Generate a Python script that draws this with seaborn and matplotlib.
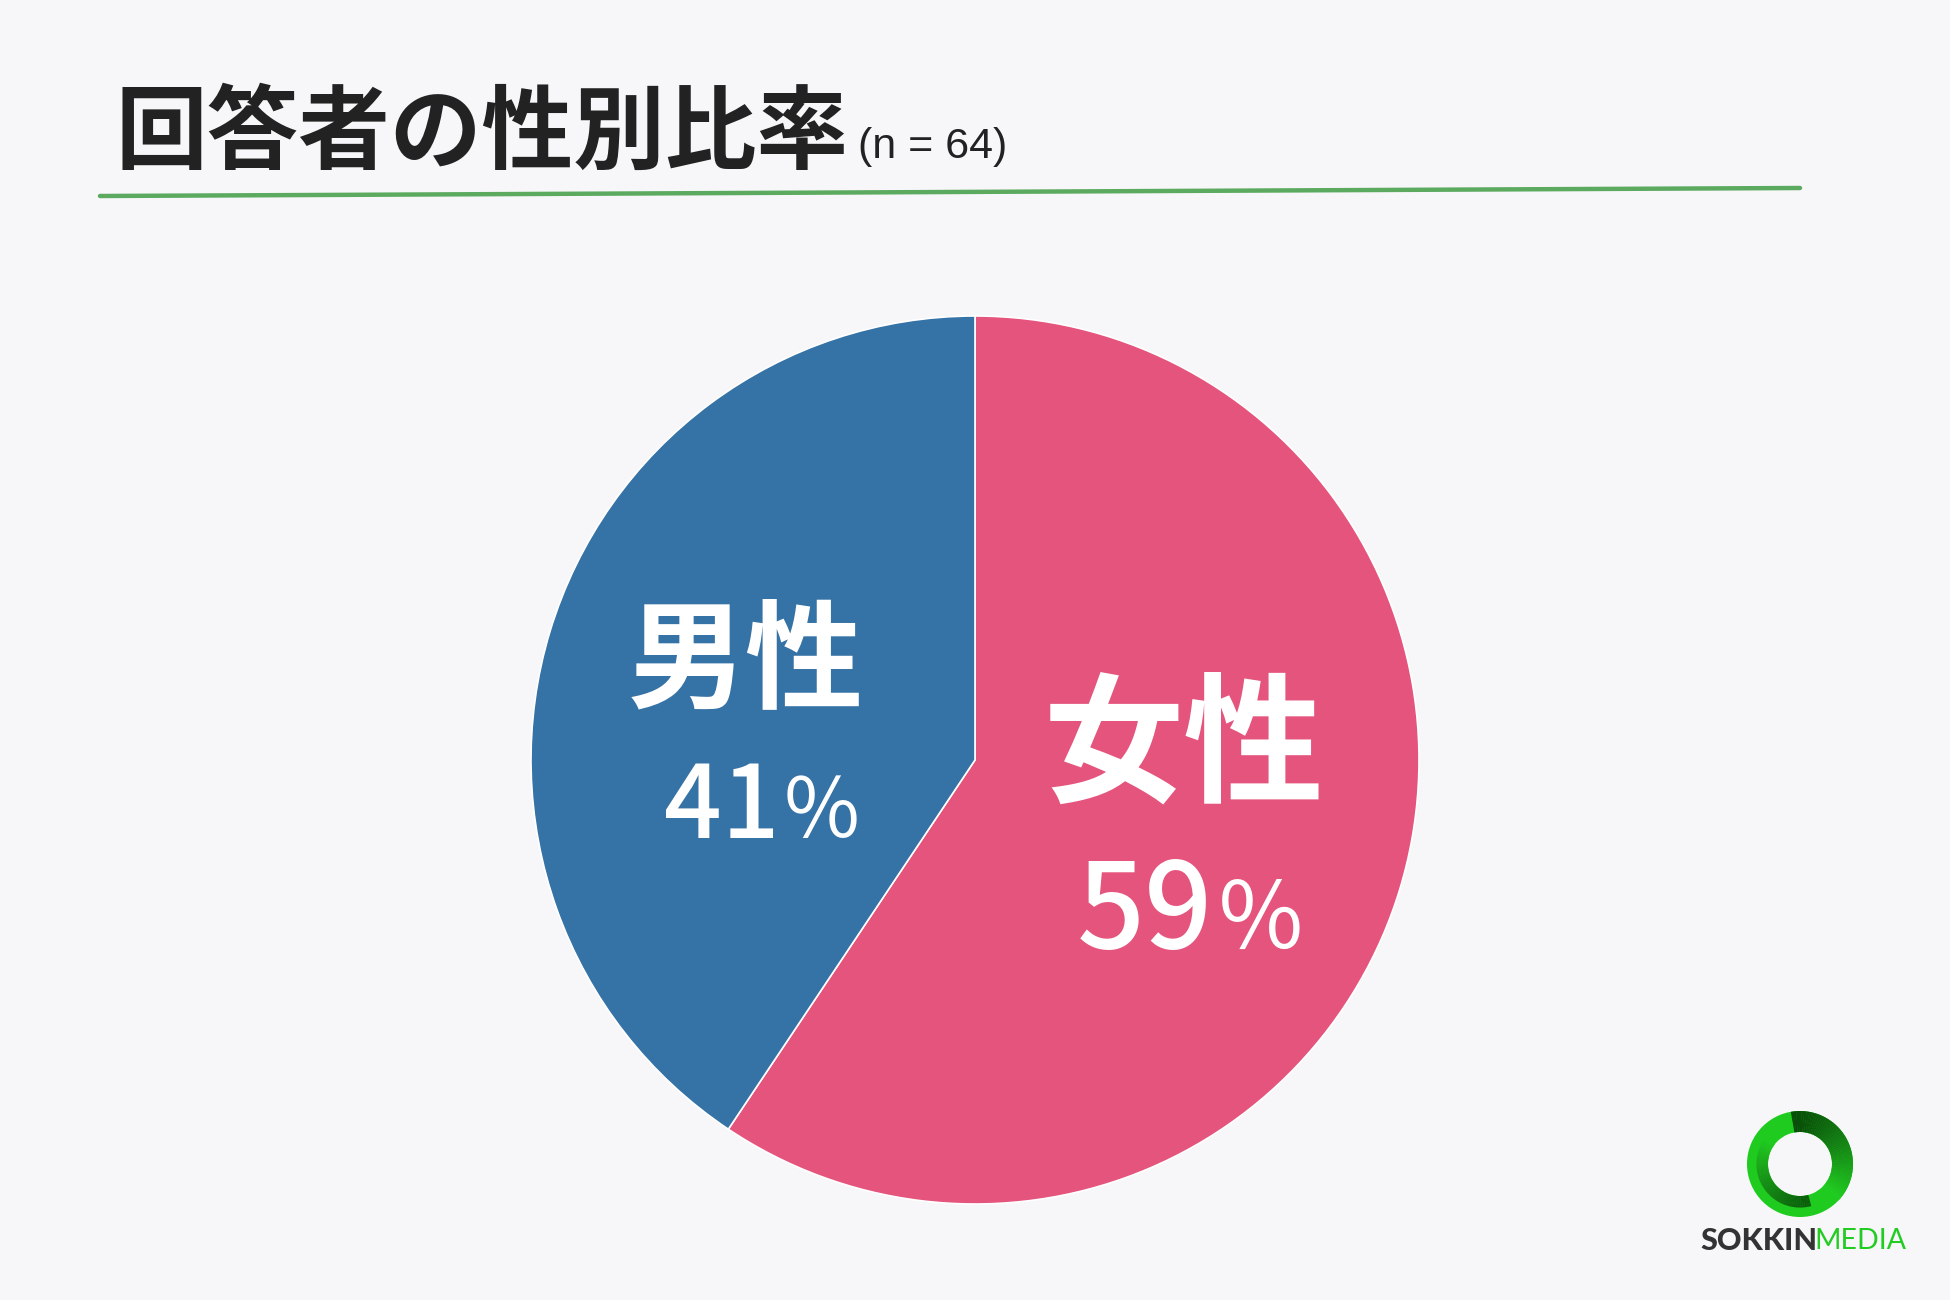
import matplotlib
matplotlib.use("Agg")
import matplotlib.pyplot as plt
from matplotlib.patches import Wedge
import seaborn as sns
import numpy as np

sns.set_theme(style="white")
plt.rcParams['font.family'] = ['Noto Sans CJK JP', 'DejaVu Sans']

# ---- data ----
categories = ["女性", "男性"]
counts = [38, 26]          # n = 64
pct_values = [59, 41]
colors = ["#E5547D", "#3572A5"]
title = "回答者の性別比率"
subtitle = "(n = 64)"

BG = "#F7F7F9"
W, H = 1950, 1300
fig = plt.figure(figsize=(W / 100, H / 100), dpi=100, facecolor=BG)

# pie axes
cx, cy, r = 975, 760, 444
ax = fig.add_axes([(cx - r) / W, (H - cy - r) / H, 2 * r / W, 2 * r / H])
ax.set_facecolor(BG)
ax.pie(counts, colors=colors, startangle=90, counterclock=False, radius=1,
       wedgeprops=dict(edgecolor="white", linewidth=1.2))
ax.set_xlim(-1, 1)
ax.set_ylim(-1, 1)
ax.set_aspect("equal")
ax.axis("off")

# labels inside wedges
ax.text(0.471, 0.024, categories[0], color="white", fontsize=101, fontweight="bold",
        ha="center", va="center")
ax.text(0.535, -0.346, f"{pct_values[0]}", color="white", fontsize=86, fontweight="medium",
        ha="right", va="center")
ax.text(0.540, -0.366, "％", color="white", fontsize=66, fontweight="normal",
        ha="left", va="center")

ax.text(-0.516, 0.218, categories[1], color="white", fontsize=85, fontweight="bold",
        ha="center", va="center")
ax.text(-0.440, -0.111, f"{pct_values[1]}", color="white", fontsize=73, fontweight="medium",
        ha="right", va="center")
ax.text(-0.437, -0.123, "％", color="white", fontsize=59, fontweight="normal",
        ha="left", va="center")

# title
fig.text(115 / W, 1 - 135 / H, title, fontsize=66, fontweight="bold", color="#222222",
         ha="left", va="center")
fig.text(858 / W, 1 - 147 / H, subtitle, fontsize=31, color="#222222",
         ha="left", va="center", family=["Liberation Sans", "DejaVu Sans"])

# green rule
fig.add_artist(plt.Line2D([100 / W, 1800 / W], [1 - 196 / H, 1 - 188 / H],
                          color="#5BAA5F", linewidth=3.2, transform=fig.transFigure))

# logo ring
lax = fig.add_axes([(1800 - 60) / W, (H - 1164 - 60) / H, 120 / W, 120 / H])
lax.set_xlim(-60, 60)
lax.set_ylim(-60, 60)
lax.set_aspect("equal")
lax.axis("off")
R_out, R_w = 53, 21
lax.add_patch(Wedge((0, 0), R_out, 0, 360, width=R_w, facecolor="#1FCB1F", edgecolor="none"))
n = 50
for i in range(n):
    t = i / (n - 1)
    a0 = 100 - 140 * t
    g = 0.30 + 0.50 * t ** 1.3
    col = (0.03 + 0.10 * t, g, 0.03 + 0.10 * t)
    lax.add_patch(Wedge((0, 0), R_out, a0 - 3.2, a0, width=R_w,
                        facecolor=col, edgecolor="none"))
for i in range(n):
    t = i / (n - 1)
    a0 = 285 - 140 * t
    g = 0.30 + 0.50 * t ** 1.3
    col = (0.03 + 0.10 * t, g, 0.03 + 0.10 * t)
    lax.add_patch(Wedge((0, 0), R_out - R_w * 0.45, a0 - 3.2, a0, width=R_w * 0.55,
                        facecolor=col, edgecolor="none", alpha=0.85))

fig.text(1700 / W, 1 - 1241 / H, "SOKKIN", fontsize=22, fontweight="black",
         color="#333333", ha="left", va="center", family=["Lato", "DejaVu Sans"])
fig.text(1814 / W, 1 - 1241 / H, "MEDIA", fontsize=20.5, fontweight="normal", color="#22CC22",
         ha="left", va="center", family=["Lato", "DejaVu Sans"])

fig.savefig("out.png", dpi=100, facecolor=BG)
